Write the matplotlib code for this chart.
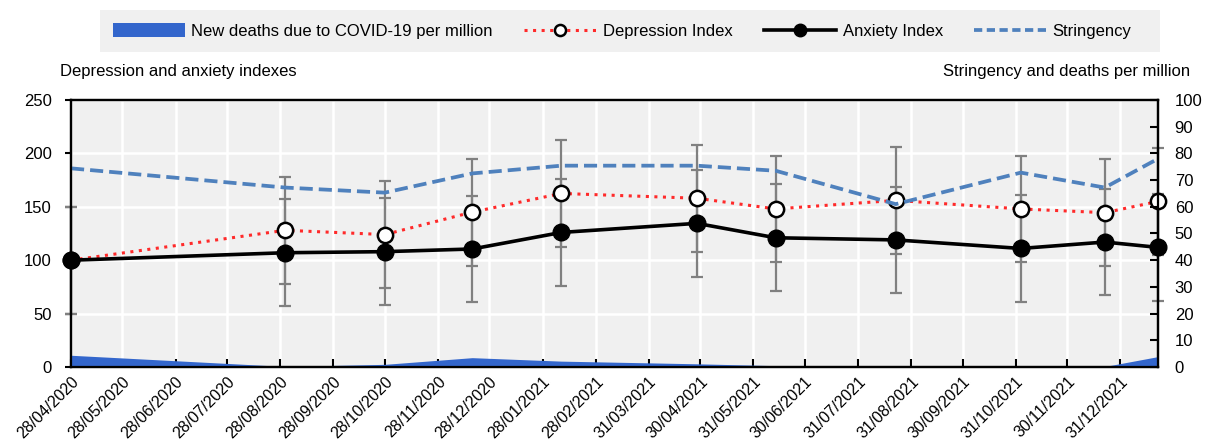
import matplotlib
matplotlib.use("Agg")
import numpy as np
import pandas as pd
import matplotlib.pyplot as plt
from matplotlib.lines import Line2D
from matplotlib.patches import Patch, Rectangle

plt.rcParams["font.family"] = ["Liberation Sans", "DejaVu Sans"]
plt.rcParams["font.size"] = 12

# ---------------------------------------------------------------------------
# DATA
# ---------------------------------------------------------------------------
wave_dates = pd.to_datetime([
    "2020-04-28", "2020-08-31", "2020-10-28", "2020-12-18", "2021-02-08",
    "2021-04-28", "2021-06-13", "2021-08-22", "2021-11-03", "2021-12-22",
    "2022-01-22",
])
depression = [100, 128, 124, 145, 162.5, 158, 148, 156, 148, 144.5, 155]
depression_err = [50, 50, 50, 50, 50, 50, 50, 50, 50, 50, 50]
anxiety = [100, 107, 108, 110.5, 126, 134.5, 121, 119, 111, 117, 112]
anxiety_err = [50, 50, 50, 50, 50, 50, 50, 50, 50, 50, 50]
stringency = [74.4, 67.2, 65.3, 72.5, 75.4, 75.4, 73.5, 61, 72.8, 67.2, 78]
deaths = [4.4, 0.2, 1.0, 3.5, 2.2, 1.2, 0.5, 0.2, 0.2, 0.2, 3.9]

tick_labels = [
    "28/04/2020", "28/05/2020", "28/06/2020", "28/07/2020", "28/08/2020",
    "28/09/2020", "28/10/2020", "28/11/2020", "28/12/2020", "28/01/2021",
    "28/02/2021", "31/03/2021", "30/04/2021", "31/05/2021", "30/06/2021",
    "31/07/2021", "31/08/2021", "30/09/2021", "31/10/2021", "30/11/2021",
    "31/12/2021",
]
tick_dates = pd.to_datetime(tick_labels, format="%d/%m/%Y")

legend_labels = ["New deaths due to COVID-19 per million", "Depression Index",
                 "Anxiety Index", "Stringency"]

# colours
C_DEATHS = "#3366CC"
C_DEP = "#FF2A2A"
C_STRING = "#4F81BD"
C_ERR = "#808080"

# ---------------------------------------------------------------------------
# FIGURE
# ---------------------------------------------------------------------------
fig, ax = plt.subplots(figsize=(12.06, 4.44), dpi=100)
fig.subplots_adjust(left=0.0589, right=0.9602, bottom=0.1734, top=0.7748)

ax.set_facecolor("#F0F0F0")
ax.grid(color="white", linewidth=1.8)
ax.set_axisbelow(True)

# error bars (one set per index)
for vals, err in [(depression, depression_err), (anxiety, anxiety_err)]:
    eb = ax.errorbar(wave_dates, vals, yerr=err, fmt="none", ecolor=C_ERR,
                     elinewidth=1.6, capsize=4.5, capthick=1.6, zorder=2)
    for art in eb.lines[1] + eb.lines[2]:
        art.set_clip_on(False)

ax.plot(wave_dates, depression, color=C_DEP, linewidth=2.2,
        linestyle=(0, (1, 1.8)), marker="o", markersize=11,
        markerfacecolor="white", markeredgecolor="black",
        markeredgewidth=1.8, zorder=3, clip_on=False)
ax.plot(wave_dates, anxiety, color="black", linewidth=2.6, marker="o",
        markersize=12, zorder=4, clip_on=False)

ax.set_xlim(wave_dates[0], wave_dates[-1])
ax.set_ylim(0, 250)
ax.set_yticks(np.arange(0, 251, 50))
ax.set_xticks(tick_dates)
ax.set_xticklabels(tick_labels, rotation=45, ha="right",
                   rotation_mode="anchor", fontsize=11.5)
ax.tick_params(axis="x", direction="in", length=6, width=1.5, pad=5)
ax.tick_params(axis="y", direction="out", length=4, width=1.5, pad=10)

# right axis: deaths + stringency
ax2 = ax.twinx()
ax2.fill_between(wave_dates, deaths, color=C_DEATHS, linewidth=0)
ax2.plot(wave_dates, stringency, color=C_STRING, linewidth=2.7,
         linestyle=(0, (3.5, 1.6)))
ax2.set_ylim(0, 100)
ax2.set_yticks(np.arange(0, 101, 10))
ax2.tick_params(axis="y", direction="in", length=6, width=1.5, pad=12)

for a in (ax, ax2):
    for sp in a.spines.values():
        sp.set_color("black")
        sp.set_linewidth(1.6)

# axis captions
fig.text(0.05, 0.838, "Depression and anxiety indexes", ha="left",
         va="center")
fig.text(0.987, 0.838, "Stringency and deaths per million", ha="right",
         va="center")

# legend with grey band
fig.add_artist(Rectangle((0.083, 0.882), 0.879, 0.095,
                         transform=fig.transFigure, facecolor="#F0F0F0",
                         edgecolor="none", zorder=0))
handles = [
    Patch(facecolor=C_DEATHS, edgecolor="none"),
    Line2D([], [], color=C_DEP, linewidth=2.2, linestyle=(0, (1, 1.8)),
           marker="o", markersize=8, markerfacecolor="white",
           markeredgecolor="black", markeredgewidth=1.8),
    Line2D([], [], color="black", linewidth=2.6, marker="o", markersize=9),
    Line2D([], [], color=C_STRING, linewidth=2.7, linestyle=(0, (2.2, 1.2))),
]
fig.legend(handles, legend_labels, loc="center", bbox_to_anchor=(0.516, 0.93),
           ncol=4, frameon=False, handlelength=4.3, handleheight=0.9,
           columnspacing=1.9, handletextpad=0.4)

fig.savefig("out.png", dpi=100)
